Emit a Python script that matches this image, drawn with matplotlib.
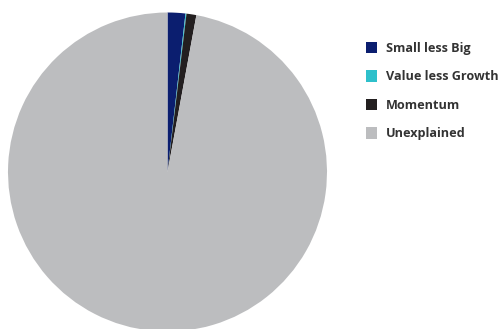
import matplotlib.pyplot as plt
from matplotlib.patches import Patch

plt.rcParams['font.family'] = ['Open Sans', 'DejaVu Sans']

labels = ['Small less Big', 'Value less Growth', 'Momentum', 'Unexplained']
shares = [1.8, 0.1, 1.0, 97.1]
colors = ['#0b1e6f', '#2ec0cb', '#231f20', '#bcbdbf']

fig = plt.figure(figsize=(5.02, 3.29), dpi=100)
W, H = 502, 329
cx, cy, r = 167.5, 172, 159.5
ax = fig.add_axes([(cx - r) / W, (H - cy - r) / H, 2 * r / W, 2 * r / H])
ax.pie(shares, colors=colors, startangle=90, counterclock=False,
       wedgeprops=dict(linewidth=0))
ax.set_xlim(-1, 1)
ax.set_ylim(-1, 1)
ax.set_aspect('equal')
ax.axis('off')

handles = [Patch(facecolor=c, edgecolor='none') for c in colors]
leg = fig.legend(handles, labels, loc='upper left',
                 bbox_to_anchor=(366 / W, 1 - 42 / H),
                 frameon=False, fontsize=9.1, handlelength=0.9,
                 handleheight=1.0, handletextpad=0.68, labelspacing=1.22,
                 borderpad=0, borderaxespad=0)
for t in leg.get_texts():
    t.set_fontweight('bold')
    t.set_color('#333333')

fig.savefig('out.png', dpi=100)
